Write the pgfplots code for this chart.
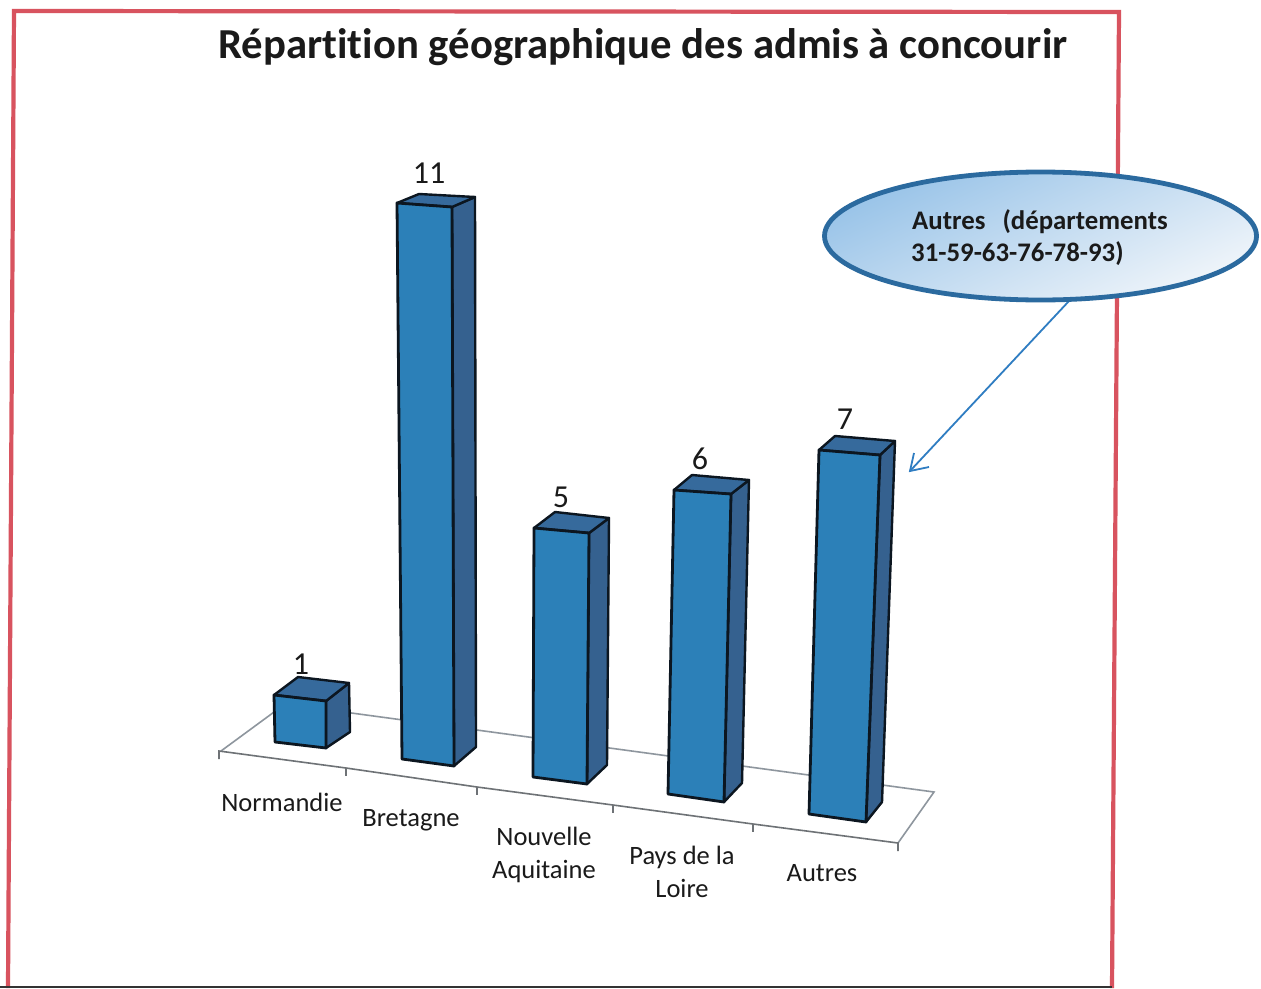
\documentclass[border=0pt]{standalone}
\usepackage{fontspec}
\setmainfont[Ligatures=NoCommon]{Carlito}
\usepackage{pgfplots}
\pgfplotsset{compat=1.18}
\definecolor{barfront}{HTML}{2C80B8}
\definecolor{barside}{HTML}{35618F}
\definecolor{bartop}{HTML}{366A9C}
\definecolor{barline}{HTML}{0C1620}
\definecolor{frame}{HTML}{D8535F}
\definecolor{floorline}{HTML}{8E969E}
\definecolor{tickline}{HTML}{6E7276}
\definecolor{bubble}{HTML}{2B6A9F}
\definecolor{bubbledark}{HTML}{98C3E8}
\definecolor{bubblelight}{HTML}{F0F5FA}
\definecolor{arrowc}{HTML}{2F7DC2}
\definecolor{txt}{HTML}{1A1A1A}
\pgfplotsset{
  front/.style={fill=barfront,draw=barline,line width=2.8pt,line join=round},
  side/.style={fill=barside,draw=barline,line width=2.4pt,line join=round},
  top/.style={fill=bartop,draw=barline,line width=2.4pt,line join=round},
}
\tikzset{
  lab/.style={anchor=base,inner sep=0pt,font=\fontsize{26.5}{26.5}\selectfont,text=txt},
  blab/.style={anchor=base west,inner sep=0pt,font=\fontsize{26.8}{26.8}\selectfont\bfseries,text=txt},
}
\begin{document}
\begin{tikzpicture}
\begin{axis}[
    width=1261pt, height=988pt,
    scale only axis,
    xmin=0, xmax=1261, ymin=0, ymax=988,
    y dir=reverse,
    axis lines=none,
]
% page
\addplot[fill=white,draw=none] coordinates {(0,0) (1261,0) (1261,988) (0,988)} --cycle;
% frame of the scanned sheet
\addplot[draw=frame,line width=4.2pt] coordinates {(8,988) (14,11) (1119,12) (1112,988)};
\addplot[draw=black!80,line width=2pt] coordinates {(0,987) (1112,987)};
% floor
\addplot[draw=floorline,line width=1.6pt] coordinates {(285,704) (934,792) (898,843)};
\addplot[draw=floorline,line width=1.6pt] coordinates {(285,704) (221,751)};
\addplot[draw=tickline,line width=1.6pt] coordinates {(219,759) (219,751) (346,768) (477,787) (613,805) (753,824) (898,843) (898,851)};
\addplot[draw=tickline,line width=1.6pt] coordinates {(346,768) (346,776)};
\addplot[draw=tickline,line width=1.6pt] coordinates {(477,787) (477,795)};
\addplot[draw=tickline,line width=1.6pt] coordinates {(613,805) (613,813)};
\addplot[draw=tickline,line width=1.6pt] coordinates {(753,824) (753,832)};
% Normandie, 1
\addplot[side] coordinates {(326,701) (349,683) (350,732) (326,748)} --cycle;
\addplot[top] coordinates {(274,695) (298,677) (349,683) (326,701)} --cycle;
\addplot[front] coordinates {(274,695) (326,701) (326,748) (275,742)} --cycle;
% Bretagne, 11
\addplot[side] coordinates {(452,207) (475,197) (476,747) (454,766)} --cycle;
\addplot[top] coordinates {(397,203) (419,194) (475,197) (452,207)} --cycle;
\addplot[front] coordinates {(397,203) (452,207) (454,766) (402,759)} --cycle;
% Nouvelle Aquitaine, 5
\addplot[side] coordinates {(589,533) (609,518) (607,765) (587,784)} --cycle;
\addplot[top] coordinates {(534,528) (555,512) (609,518) (589,533)} --cycle;
\addplot[front] coordinates {(534,528) (589,533) (587,784) (533,777)} --cycle;
% Pays de la Loire, 6
\addplot[side] coordinates {(731,494) (749,480) (742,783) (724,802)} --cycle;
\addplot[top] coordinates {(674,490) (692,475) (749,480) (731,494)} --cycle;
\addplot[front] coordinates {(674,490) (731,494) (724,802) (668,794)} --cycle;
% Autres, 7
\addplot[side] coordinates {(880,455) (895,441) (882,802) (866,822)} --cycle;
\addplot[top] coordinates {(819,450) (835,436) (895,441) (880,455)} --cycle;
\addplot[front] coordinates {(819,450) (880,455) (866,822) (809,814)} --cycle;
% data labels
\addplot[only marks,mark=none,point meta=explicit symbolic,
    nodes near coords,
    every node near coord/.append style={anchor=center,inner sep=0pt,font=\fontsize{32}{32}\selectfont,text=txt}]
  coordinates {(301,664)[1] (429,173)[11] (561,497)[5] (700,459)[6] (845,419)[7]};
% callout
\addplot[draw=arrowc,line width=1.8pt] coordinates {(1069,301) (910,471)};
\addplot[draw=arrowc,line width=1.8pt] coordinates {(914,453) (910,471) (929,467)};
\draw[bubble,line width=4.8pt,left color=bubbledark,right color=bubblelight,shading angle=25]
  (axis cs:1040.5,236) ellipse [x radius=216pt,y radius=64pt];
% text
\node[anchor=base,inner sep=0pt,font=\fontsize{42.7}{42.7}\selectfont\bfseries,text=txt] at (axis cs:643,58.5) {Répartition géographique des admis à concourir};
\node[blab] at (axis cs:912,229) {Autres\hspace{17pt}(départements};
\node[blab] at (axis cs:911,261) {31-59-63-76-78-93)};
\node[lab] at (axis cs:282,811) {Normandie};
\node[lab] at (axis cs:411,826) {Bretagne};
\node[lab] at (axis cs:544,845) {Nouvelle};
\node[lab] at (axis cs:544,878) {Aquitaine};
\node[lab] at (axis cs:682,864) {Pays de la};
\node[lab] at (axis cs:682,897) {Loire};
\node[lab] at (axis cs:822,881.5) {Autres};
\end{axis}
\end{tikzpicture}
\end{document}
